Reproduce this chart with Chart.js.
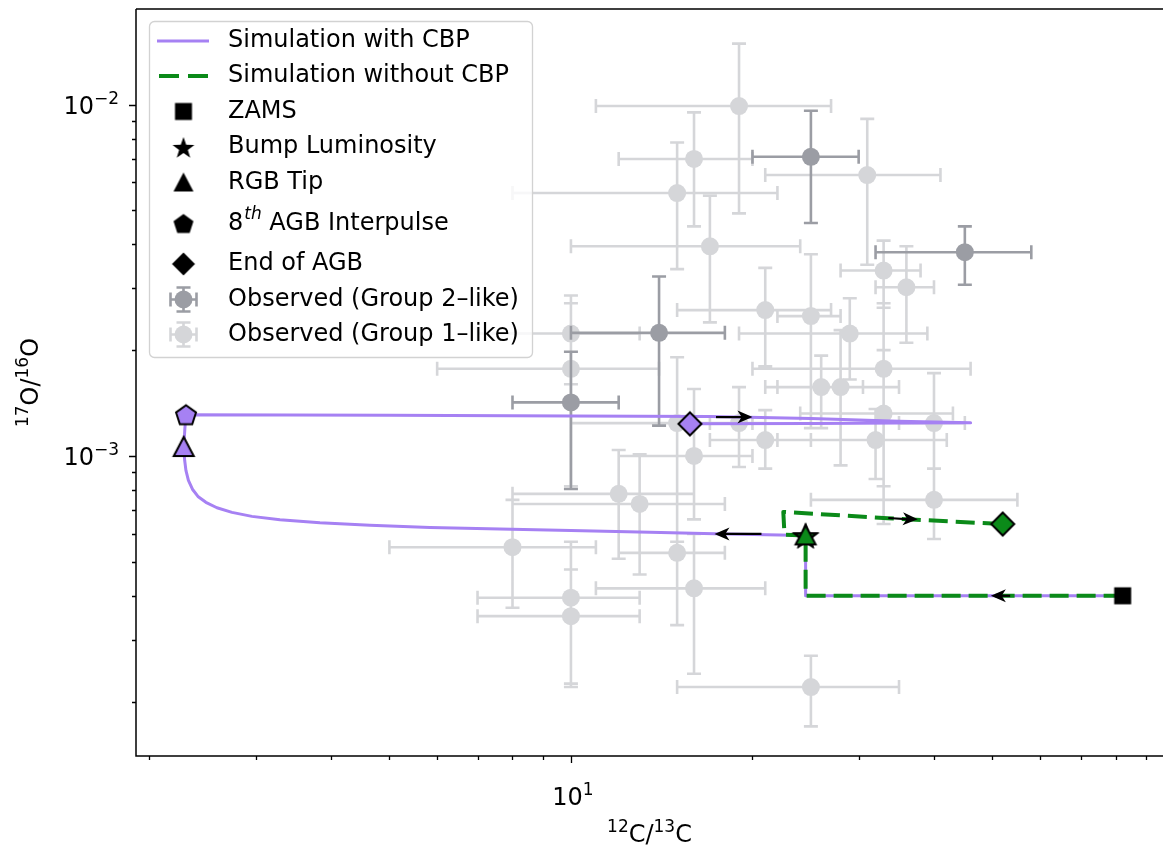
<!DOCTYPE html>
<html>
<head>
<meta charset="utf-8">
<title>17O/16O vs 12C/13C</title>
<script src="https://cdn.jsdelivr.net/npm/chart.js@4.4.1/dist/chart.umd.min.js"></script>
<style>
  body { margin: 0; background: #fff; }
  canvas { display: block; }
</style>
</head>
<body>
<canvas id="isoChart" width="1163" height="850"></canvas>
<script>
// Axis ranges and tick positions (log scales)
const X_MIN = 1.9, X_MAX = 95.9;
const Y_MIN = 1.40e-4, Y_MAX = 0.0187;
const xTickVals = [2, 3, 4, 5, 6, 7, 8, 9, 10, 20, 30, 40, 50, 60, 70, 80, 90];
const yTickVals = [2e-4, 3e-4, 4e-4, 5e-4, 6e-4, 7e-4, 8e-4, 9e-4, 1e-3,
                   2e-3, 3e-3, 4e-3, 5e-3, 6e-3, 7e-3, 8e-3, 9e-3, 1e-2];
// decade labels as [base, exponent]
const xMajorLabels = { 10: ['10', '1'] };
const yMajorLabels = { 0.001: ['10', '−3'], 0.01: ['10', '−2'] };

// Observed stars, Group 2-like
const g2X   = [25, 45, 14, 10];
const g2XLo = [20, 32, 10, 8];
const g2XHi = [30, 58, 18, 12];
const g2Y   = [7.1e-3, 3.8e-3, 2.24e-3, 1.42e-3];
const g2YLo = [4.6e-3, 3.07e-3, 1.22e-3, 8.05e-4];
const g2YHi = [9.6e-3, 4.5e-3, 3.24e-3, 1.98e-3];

// Observed stars, Group 1-like
const g1X   = [19, 16, 31, 15, 17, 33, 36, 21, 25, 29, 33, 26, 28, 33, 40,
               19, 21, 32, 16, 40, 10, 10, 15, 12, 13, 8, 15, 16, 10, 10, 25];
const g1XLo = [11, 12, 21, 8, 10, 28, 32, 15, 22, 19, 20, 21, 22, 24, 35,
               17, 17, 22, 12, 25, 7, 6, 10, 8, 8, 5, 12, 11, 7, 7, 15];
const g1XHi = [27, 20, 41, 22, 24, 38, 40, 27, 28, 39, 46, 30.5, 35, 43, 45,
               21, 25, 42, 20, 55, 13, 14, 20, 16, 18, 11, 18, 21, 13, 13, 35];
const g1Y   = [9.9e-3, 7.0e-3, 6.3e-3, 5.6e-3, 3.95e-3, 3.37e-3, 3.02e-3, 2.6e-3, 2.5e-3, 2.23e-3,
               1.77e-3, 1.57e-3, 1.57e-3, 1.32e-3, 1.24e-3, 1.24e-3, 1.11e-3, 1.11e-3, 1.0e-3, 7.5e-4,
               2.23e-3, 1.77e-3, 1.24e-3, 7.8e-4, 7.3e-4, 5.5e-4, 5.3e-4, 4.2e-4, 3.95e-4, 3.5e-4, 2.2e-4];
const g1YLo = [4.9e-3, 4.5e-3, 3.5e-3, 3.4e-3, 2.4e-3, 2.64e-3, 2.1e-3, 1.8e-3, 1.2e-3, 1.65e-3,
               8.2e-4, 1.2e-3, 9.4e-4, 6.4e-4, 9.2e-4, 9.3e-4, 9.2e-4, 8.6e-4, 6.6e-4, 5.8e-4,
               1.6e-3, 8.2e-4, 5.7e-4, 5.1e-4, 4.6e-4, 3.7e-4, 3.3e-4, 2.4e-4, 2.25e-4, 2.2e-4, 1.7e-4];
const g1YHi = [1.49e-2, 9.5e-3, 9.1e-3, 7.8e-3, 5.5e-3, 4.1e-3, 3.95e-3, 3.43e-3, 3.75e-3, 2.81e-3,
               2.72e-3, 1.93e-3, 2.28e-3, 2.0e-3, 1.72e-3, 1.57e-3, 1.35e-3, 1.36e-3, 1.55e-3, 9.2e-4,
               2.86e-3, 2.72e-3, 1.91e-3, 1.04e-3, 1.01e-3, 7.5e-4, 7.3e-4, 6.0e-4, 5.7e-4, 4.75e-4, 2.7e-4];

// Model track with cool bottom processing
const cbpX = [82.2, 24.5, 24.5, 17.3, 13.52, 10, 7.625, 5.837, 4.642, 3.835, 3.292, 2.958, 2.741,
              2.588, 2.481, 2.407, 2.357, 2.321, 2.299, 2.288, 2.28, 2.29, 2.30,
              5, 10, 17, 25, 35, 46, 35, 25, 15.75];
const cbpY = [4.0e-4, 4.0e-4, 5.94e-4, 6.01e-4, 6.07e-4, 6.14e-4, 6.20e-4, 6.26e-4, 6.35e-4, 6.45e-4,
              6.58e-4, 6.73e-4, 6.91e-4, 7.12e-4, 7.38e-4, 7.67e-4, 8.04e-4, 8.52e-4, 9.10e-4, 9.72e-4,
              1.06e-3, 1.2e-3, 1.31e-3,
              1.305e-3, 1.30e-3, 1.294e-3, 1.278e-3, 1.255e-3, 1.242e-3, 1.24e-3, 1.237e-3, 1.234e-3];

// Model track without cool bottom processing
const noCbpX = [82.2, 24.5, 24.5, 22.6, 22.5, 33.5, 52];
const noCbpY = [4.0e-4, 4.0e-4, 5.94e-4, 5.97e-4, 6.93e-4, 6.65e-4, 6.4e-4];

// Evolutionary stages along each track: bump, RGB tip, 8th AGB interpulse, end of AGB
const cbpStageX = [24.5, 2.28, 2.30, 15.75];
const cbpStageY = [5.94e-4, 1.06e-3, 1.31e-3, 1.234e-3];
const noCbpStageX = [24.5, 24.5, 52];
const noCbpStageY = [5.94e-4, 5.94e-4, 6.4e-4];
const zamsX = [82.2];
const zamsY = [4.0e-4];

// Direction arrows along the tracks: [tail, head] in data units
const arrowTails = [[20.7, 6.0e-4], [17.4, 1.29e-3], [33.6, 6.66e-4], [53.5, 4.0e-4]];
const arrowHeads = [[17.3, 6.0e-4], [20.0, 1.29e-3], [37.6, 6.6e-4], [49.7, 4.0e-4]];

const legendLabels = ['Simulation with CBP', 'Simulation without CBP', 'ZAMS', 'Bump Luminosity',
                      'RGB Tip', '8th AGB Interpulse', 'End of AGB',
                      'Observed (Group 2–like)', 'Observed (Group 1–like)'];

const PURPLE = '#a681f3';
const GREEN = '#0b8a19';
const DARK = '#9b9da4';
const LIGHT = '#d5d6d9';
const FONT = 'DejaVu Sans';
const BIG = `24px "${FONT}"`;
const SMALL = `17px "${FONT}"`;

const pts = (xs, ys) => xs.map((v, i) => ({ x: v, y: ys[i] }));

// Marker glyphs drawn once into small canvases, used as point styles
function marker(shape, fill) {
  const c = document.createElement('canvas');
  c.width = c.height = 30;
  const g = c.getContext('2d');
  const m = 15;
  g.beginPath();
  if (shape === 'square') {
    g.rect(m - 8.5, m - 8.5, 17, 17);
  } else if (shape === 'diamond') {
    g.moveTo(m, m - 11.5); g.lineTo(m + 11.5, m); g.lineTo(m, m + 11.5); g.lineTo(m - 11.5, m);
    g.closePath();
  } else if (shape === 'triangle') {
    g.moveTo(m, m - 10); g.lineTo(m + 10, m + 9); g.lineTo(m - 10, m + 9);
    g.closePath();
  } else if (shape === 'pentagon') {
    for (let k = 0; k < 5; k++) {
      const a = -Math.PI / 2 + k * 2 * Math.PI / 5;
      g.lineTo(m + 10.5 * Math.cos(a), m + 1 + 10.5 * Math.sin(a));
    }
    g.closePath();
  } else if (shape === 'star') {
    for (let k = 0; k < 10; k++) {
      const a = -Math.PI / 2 + k * Math.PI / 5;
      const r = k % 2 ? 4.6 : 11.5;
      g.lineTo(m + r * Math.cos(a), m + 1.5 + r * Math.sin(a));
    }
    g.closePath();
  }
  g.fillStyle = fill;
  g.fill();
  if (fill !== '#000') {
    g.lineWidth = 2;
    g.lineJoin = 'miter';
    g.strokeStyle = '#000';
    g.stroke();
  }
  return c;
}

const cbpStyles = ['star', 'triangle', 'pentagon', 'diamond'].map(s => marker(s, PURPLE));
const noCbpStyles = ['star', 'triangle', 'diamond'].map(s => marker(s, GREEN));
const legendShapes = ['square', 'star', 'triangle', 'pentagon', 'diamond'].map(s => marker(s, '#000'));

const CAP = 7;

// Error bars are drawn just before the markers of the observed groups
const errorBars = {
  id: 'errorBars',
  beforeDatasetDraw(chart, args) {
    const ds = chart.data.datasets[args.index];
    if (!ds.err) return;
    const { ctx, chartArea: a, scales: { x, y } } = chart;
    const e = ds.err;
    ctx.save();
    ctx.beginPath();
    ctx.rect(a.left, a.top, a.right - a.left, a.bottom - a.top);
    ctx.clip();
    ctx.strokeStyle = ds.backgroundColor;
    ctx.lineWidth = 2.6;
    ctx.beginPath();
    ds.data.forEach((p, i) => {
      const px = x.getPixelForValue(p.x), py = y.getPixelForValue(p.y);
      const x0 = x.getPixelForValue(e.xLo[i]), x1 = x.getPixelForValue(e.xHi[i]);
      const y0 = y.getPixelForValue(e.yLo[i]), y1 = y.getPixelForValue(e.yHi[i]);
      ctx.moveTo(x0, py); ctx.lineTo(x1, py);
      ctx.moveTo(px, y0); ctx.lineTo(px, y1);
      ctx.moveTo(x0, py - CAP); ctx.lineTo(x0, py + CAP);
      ctx.moveTo(x1, py - CAP); ctx.lineTo(x1, py + CAP);
      ctx.moveTo(px - CAP, y0); ctx.lineTo(px + CAP, y0);
      ctx.moveTo(px - CAP, y1); ctx.lineTo(px + CAP, y1);
    });
    ctx.stroke();
    ctx.restore();
  }
};

function arrowHead(ctx, x0, y0, x1, y1) {
  const ang = Math.atan2(y1 - y0, x1 - x0);
  const len = 15, half = 6.5;
  ctx.save();
  ctx.translate(x1, y1);
  ctx.rotate(ang);
  ctx.beginPath();
  ctx.moveTo(0, 0);
  ctx.lineTo(-len, -half);
  ctx.lineTo(-len * 0.72, 0);
  ctx.lineTo(-len, half);
  ctx.closePath();
  ctx.fill();
  ctx.restore();
}

const arrows = {
  id: 'arrows',
  afterDatasetsDraw(chart) {
    const { ctx, scales: { x, y } } = chart;
    ctx.save();
    ctx.strokeStyle = '#000';
    ctx.fillStyle = '#000';
    ctx.lineWidth = 2.2;
    arrowTails.forEach((t, i) => {
      const h = arrowHeads[i];
      const x0 = x.getPixelForValue(t[0]), y0 = y.getPixelForValue(t[1]);
      const x1 = x.getPixelForValue(h[0]), y1 = y.getPixelForValue(h[1]);
      ctx.beginPath();
      ctx.moveTo(x0, y0);
      ctx.lineTo(x1 - Math.sign(x1 - x0) * 8, y1);
      ctx.stroke();
      arrowHead(ctx, x0, y0, x1, y1);
    });
    ctx.restore();
  }
};

// Text with raised, smaller runs (exponents and isotope numbers)
function richText(ctx, runs, x, y, align) {
  let w = 0;
  runs.forEach(([t, sup]) => { ctx.font = sup ? SMALL : BIG; w += ctx.measureText(t).width; });
  let cx = align === 'right' ? x - w : align === 'center' ? x - w / 2 : x;
  runs.forEach(([t, sup]) => {
    ctx.font = sup ? SMALL : BIG;
    ctx.fillText(t, cx, sup ? y - 10 : y);
    cx += ctx.measureText(t).width;
  });
}

function errLegendMark(ctx, cx, cy, color) {
  ctx.strokeStyle = color;
  ctx.fillStyle = color;
  ctx.lineWidth = 2.6;
  ctx.beginPath();
  ctx.moveTo(cx - 13, cy); ctx.lineTo(cx + 13, cy);
  ctx.moveTo(cx, cy - 12); ctx.lineTo(cx, cy + 12);
  ctx.moveTo(cx - 13, cy - CAP); ctx.lineTo(cx - 13, cy + CAP);
  ctx.moveTo(cx + 13, cy - CAP); ctx.lineTo(cx + 13, cy + CAP);
  ctx.moveTo(cx - CAP, cy - 12); ctx.lineTo(cx + CAP, cy - 12);
  ctx.moveTo(cx - CAP, cy + 12); ctx.lineTo(cx + CAP, cy + 12);
  ctx.stroke();
  ctx.beginPath();
  ctx.arc(cx, cy, 9, 0, Math.PI * 2);
  ctx.fill();
}

function drawLegend(ctx) {
  const bx = 149.5, by = 21.5, bw = 383, bh = 336, r = 5;
  ctx.save();
  ctx.beginPath();
  ctx.moveTo(bx + r, by);
  ctx.arcTo(bx + bw, by, bx + bw, by + bh, r);
  ctx.arcTo(bx + bw, by + bh, bx, by + bh, r);
  ctx.arcTo(bx, by + bh, bx, by, r);
  ctx.arcTo(bx, by, bx + bw, by, r);
  ctx.closePath();
  ctx.fillStyle = 'rgba(255,255,255,0.8)';
  ctx.fill();
  ctx.strokeStyle = '#d2d2d2';
  ctx.lineWidth = 1.3;
  ctx.stroke();

  const rowY = [41, 76, 111.5, 147, 182.5, 223.5, 264, 299.5, 334.5];
  const mx = 183.5, tx = 228;

  // line handles
  ctx.lineWidth = 3;
  ctx.strokeStyle = PURPLE;
  ctx.beginPath(); ctx.moveTo(157, rowY[0]); ctx.lineTo(209, rowY[0]); ctx.stroke();
  ctx.lineWidth = 4;
  ctx.strokeStyle = GREEN;
  ctx.setLineDash([20, 9]);
  ctx.beginPath(); ctx.moveTo(159, rowY[1]); ctx.lineTo(209, rowY[1]); ctx.stroke();
  ctx.setLineDash([]);

  // stage markers
  legendShapes.forEach((img, k) => {
    ctx.drawImage(img, mx - img.width / 2, rowY[k + 2] - img.height / 2);
  });
  errLegendMark(ctx, mx, rowY[7], DARK);
  errLegendMark(ctx, mx, rowY[8], LIGHT);

  // labels
  ctx.fillStyle = '#000';
  ctx.textBaseline = 'middle';
  ctx.textAlign = 'left';
  ctx.font = BIG;
  legendLabels.forEach((txt, k) => {
    if (k === 5) {
      // "8th" with a raised italic suffix
      ctx.fillText('8', tx, rowY[k]);
      let w = ctx.measureText('8').width;
      ctx.font = `italic 17px "${FONT}"`;
      ctx.fillText('th', tx + w + 1, rowY[k] - 9);
      w += ctx.measureText('th').width + 1;
      ctx.font = BIG;
      ctx.fillText(' AGB Interpulse', tx + w, rowY[k]);
    } else {
      ctx.fillText(txt, tx, rowY[k]);
    }
  });
  ctx.restore();
}

// Spines, log tick marks, tick labels, axis titles and the legend box
const frame = {
  id: 'frame',
  afterDraw(chart) {
    const { ctx, chartArea: a, scales: { x, y } } = chart;
    ctx.save();
    ctx.strokeStyle = '#000';
    ctx.lineWidth = 1.5;
    ctx.beginPath();
    ctx.moveTo(a.left, a.top); ctx.lineTo(a.right, a.top);
    ctx.moveTo(a.left, a.top); ctx.lineTo(a.left, a.bottom);
    ctx.moveTo(a.left - 0.75, a.bottom); ctx.lineTo(a.right, a.bottom);
    ctx.stroke();
    ctx.lineWidth = 1.3;
    ctx.beginPath();
    xTickVals.forEach(v => {
      const px = Math.round(x.getPixelForValue(v)) + 0.5;
      const len = xMajorLabels[v] ? 7 : 4;
      ctx.moveTo(px, a.bottom); ctx.lineTo(px, a.bottom + len);
    });
    yTickVals.forEach(v => {
      const py = Math.round(y.getPixelForValue(v)) + 0.5;
      const len = yMajorLabels[v] ? 7 : 4;
      ctx.moveTo(a.left, py); ctx.lineTo(a.left - len, py);
    });
    ctx.stroke();

    ctx.fillStyle = '#000';
    ctx.textBaseline = 'alphabetic';
    ctx.textAlign = 'left';
    Object.keys(xMajorLabels).forEach(k => {
      const [b, e] = xMajorLabels[k];
      richText(ctx, [[b, false], [e, true]], x.getPixelForValue(Number(k)) + 2, a.bottom + 49, 'center');
    });
    Object.keys(yMajorLabels).forEach(k => {
      const [b, e] = yMajorLabels[k];
      richText(ctx, [[b, false], [e, true]], a.left - 17, y.getPixelForValue(Number(k)) + 9, 'right');
    });

    // axis titles
    richText(ctx, [['12', true], ['C/', false], ['13', true], ['C', false]],
             (a.left + a.right) / 2, 842, 'center');
    ctx.save();
    ctx.translate(38, (a.top + a.bottom) / 2);
    ctx.rotate(-Math.PI / 2);
    richText(ctx, [['17', true], ['O/', false], ['16', true], ['O', false]], 0, 0, 'center');
    ctx.restore();
    ctx.restore();
    drawLegend(ctx);
  }
};

const noPad = s => { s.paddingTop = s.paddingBottom = s.paddingLeft = s.paddingRight = 0; };

new Chart(document.getElementById('isoChart'), {
  type: 'scatter',
  data: {
    datasets: [
      {
        label: 'Observed (Group 1–like)',
        data: pts(g1X, g1Y),
        err: { xLo: g1XLo, xHi: g1XHi, yLo: g1YLo, yHi: g1YHi },
        backgroundColor: LIGHT,
        pointRadius: 9,
        pointBorderWidth: 0,
        order: 7
      },
      {
        label: 'Observed (Group 2–like)',
        data: pts(g2X, g2Y),
        err: { xLo: g2XLo, xHi: g2XHi, yLo: g2YLo, yHi: g2YHi },
        backgroundColor: DARK,
        pointRadius: 9,
        pointBorderWidth: 0,
        order: 6
      },
      {
        label: 'Simulation with CBP',
        data: pts(cbpX, cbpY),
        showLine: true,
        borderColor: PURPLE,
        borderWidth: 3,
        borderJoinStyle: 'round',
        pointRadius: 0,
        tension: 0,
        order: 5
      },
      {
        label: 'Simulation without CBP',
        data: pts(noCbpX, noCbpY),
        showLine: true,
        borderColor: GREEN,
        borderWidth: 4,
        borderDash: [19, 8],
        borderJoinStyle: 'round',
        pointRadius: 0,
        tension: 0,
        order: 4
      },
      {
        label: 'CBP stages',
        data: pts(cbpStageX, cbpStageY),
        pointStyle: cbpStyles,
        pointRadius: 10,
        order: 3
      },
      {
        label: 'No-CBP stages',
        data: pts(noCbpStageX, noCbpStageY),
        pointStyle: noCbpStyles,
        pointRadius: 10,
        order: 2
      },
      {
        label: 'ZAMS',
        data: pts(zamsX, zamsY),
        pointStyle: marker('square', '#000'),
        pointRadius: 10,
        order: 1
      }
    ]
  },
  options: {
    responsive: false,
    animation: false,
    events: [],
    layout: { autoPadding: false, padding: { top: 9, left: 0, right: 0, bottom: 0 } },
    plugins: { legend: { display: false }, tooltip: { enabled: false } },
    scales: {
      x: {
        type: 'logarithmic',
        min: X_MIN,
        max: X_MAX,
        afterFit(s) { s.height = 94; noPad(s); },
        afterBuildTicks(s) { s.ticks = xTickVals.map(v => ({ value: v })); },
        grid: { display: false, drawTicks: false },
        border: { display: false },
        ticks: { display: false, autoSkip: false, maxRotation: 0 }
      },
      y: {
        type: 'logarithmic',
        min: Y_MIN,
        max: Y_MAX,
        afterFit(s) { s.width = 136; noPad(s); },
        afterBuildTicks(s) { s.ticks = yTickVals.map(v => ({ value: v })); },
        grid: { display: false, drawTicks: false },
        border: { display: false },
        ticks: { display: false, autoSkip: false }
      }
    }
  },
  plugins: [errorBars, arrows, frame]
});
</script>
</body>
</html>
